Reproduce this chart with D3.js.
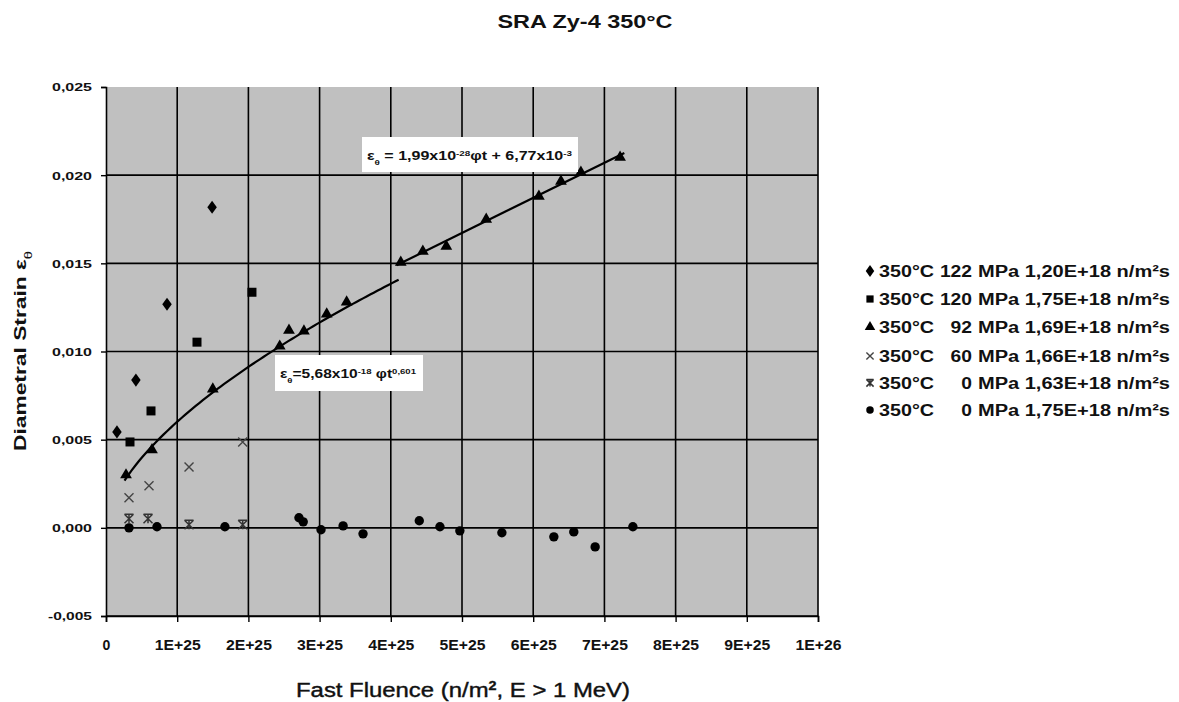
<!DOCTYPE html>
<html><head><meta charset="utf-8">
<script src="https://cdn.jsdelivr.net/npm/d3@7/dist/d3.min.js"></script>
<style>
html,body{margin:0;padding:0;background:#fff;}
svg{display:block;font-family:"Liberation Sans",Arial,sans-serif;}
</style></head>
<body>
<svg id="c" width="1179" height="702"></svg>
<script>
// ---- data (fluence in units of 1E+25 n/m², strain) ----
const s122x = [0.154, 0.42, 0.857, 1.49];
const s122y = [0.00544, 0.00838, 0.01268, 0.01818];
const s120x = [0.337, 0.632, 1.278, 2.05];
const s120y = [0.00487, 0.00663, 0.01053, 0.01336];
const s92x = [0.281, 0.646, 1.50, 2.44, 2.57, 2.78, 3.10, 3.38, 4.14, 4.45, 4.78, 5.34, 6.08, 6.39, 6.67, 7.22];
const s92y = [0.0030, 0.00442, 0.00787, 0.0103, 0.0112, 0.01116, 0.01212, 0.0128, 0.01506, 0.01568, 0.01597, 0.0175, 0.0188, 0.01965, 0.02016, 0.02101];
const s60x = [0.323, 0.604, 1.166, 1.92];
const s60y = [0.0017, 0.00238, 0.00345, 0.00487];
const s0ax = [0.323, 0.59, 1.166, 1.92];
const s0ay = [0.00051, 0.00051, 0.00017, 0.00017];
const s0bx = [0.323, 0.716, 1.67, 2.71, 2.77, 3.02, 3.33, 3.61, 4.40, 4.69, 4.97, 5.56, 6.29, 6.57, 6.87, 7.40];
const s0by = [0.0, 0.00006, 0.00006, 0.00057, 0.00034, -0.00011, 0.00011, -0.00034, 0.0004, 0.00006, -0.00017, -0.00028, -0.00051, -0.00023, -0.00108, 0.00006];

const seriesNames = [
  ["350°C","122","MPa 1,20E+18 n/m²s"],
  ["350°C","120","MPa 1,75E+18 n/m²s"],
  ["350°C","92","MPa 1,69E+18 n/m²s"],
  ["350°C","60","MPa 1,66E+18 n/m²s"],
  ["350°C","0","MPa 1,63E+18 n/m²s"],
  ["350°C","0","MPa 1,75E+18 n/m²s"]
];
const seriesMarkers = ["diamond","square","triangle","cross","asterisk","circle"];

const xTicks = [0,1,2,3,4,5,6,7,8,9,10];
const xTickLabels = ["0","1E+25","2E+25","3E+25","4E+25","5E+25","6E+25","7E+25","8E+25","9E+25","1E+26"];
const yTicks = [-0.005,0,0.005,0.010,0.015,0.020,0.025];
const yTickLabels = ["-0,005","0,000","0,005","0,010","0,015","0,020","0,025"];

// fit lines: power law eps = a * phi^b (phi in n/m²), linear eps = m*phi + c
const powerFit = {a:5.68e-18, b:0.601, from:0.26, to:4.15};
const linearFit = {m:1.99e-28, c:6.77e-3, from:4.08, to:7.28};

const svg = d3.select("#c");
const L=106, R=818, T=87, B=616;
const x = d3.scaleLinear().domain([0,10]).range([L,R]);
const y = d3.scaleLinear().domain([-0.005,0.025]).range([B,T]);

// plot area
svg.append("rect").attr("x",L).attr("y",T).attr("width",R-L).attr("height",B-T).attr("fill","#c0c0c0");
// grid
const g = svg.append("g").attr("stroke","#000").attr("stroke-width",1.6);
yTicks.filter(v=>v<0.024).forEach(v=>g.append("line").attr("x1",L).attr("x2",R).attr("y1",y(v)).attr("y2",y(v)));
xTicks.filter(v=>v>0).forEach(v=>g.append("line").attr("x1",x(v)).attr("x2",x(v)).attr("y1",T).attr("y2",B));

// axes
const xAxis = svg.append("g").attr("transform",`translate(0,${B})`)
  .call(d3.axisBottom(x).tickValues(xTicks).tickSize(6).tickFormat((d,i)=>xTickLabels[i]));
xAxis.select(".domain").attr("stroke-width",1.6);
xAxis.selectAll(".tick line").attr("stroke-width",1.4);
xAxis.selectAll("text").attr("font-size",14).attr("font-weight","bold").attr("fill","#111")
  .attr("font-family","Liberation Sans, Arial, sans-serif").attr("dy",0).attr("y",34)
  .each(function(d,i){ if(i>0) d3.select(this).attr("textLength",46).attr("lengthAdjust","spacingAndGlyphs"); });

const yAxis = svg.append("g").attr("transform",`translate(${L},0)`)
  .call(d3.axisLeft(y).tickValues(yTicks).tickSize(5).tickFormat((d,i)=>yTickLabels[i]));
yAxis.select(".domain").attr("stroke-width",1.6);
yAxis.selectAll(".tick line").attr("stroke-width",1.4);
yAxis.selectAll("text").attr("font-size",11).attr("font-weight","bold").attr("fill","#111")
  .attr("font-family","Liberation Sans, Arial, sans-serif").attr("x",-14).attr("dy","0.35em")
  .each(function(d,i){ d3.select(this).attr("textLength", i===0?44:40).attr("lengthAdjust","spacingAndGlyphs"); });

// fit lines
const pw = d3.range(powerFit.from, powerFit.to+1e-9, 0.05).map(t=>[t, powerFit.a*Math.pow(t*1e25,powerFit.b)]);
const ln = [linearFit.from, linearFit.to].map(t=>[t, linearFit.m*t*1e25+linearFit.c]);
const line = d3.line().x(d=>x(d[0])).y(d=>y(d[1]));
svg.append("path").attr("d",line(pw)).attr("fill","none").attr("stroke","#000").attr("stroke-width",2.2);
svg.append("path").attr("d",line(ln)).attr("fill","none").attr("stroke","#000").attr("stroke-width",2.2);

// markers
function drawMarker(sel, type, cx, cy, scale){
  scale = scale||1;
  if(type==="diamond") sel.append("path").attr("d",d3.symbol(d3.symbolDiamond,50*scale)()).attr("transform",`translate(${cx},${cy}) scale(1.25,1)`).attr("fill","#000");
  else if(type==="square") sel.append("rect").attr("x",cx-4.5*scale).attr("y",cy-4.5*scale).attr("width",9*scale).attr("height",9*scale).attr("fill","#000");
  else if(type==="triangle") sel.append("path").attr("d",d3.symbol(d3.symbolTriangle,60*scale)()).attr("transform",`translate(${cx},${cy})`).attr("fill","#000");
  else if(type==="circle") sel.append("circle").attr("cx",cx).attr("cy",cy).attr("r",4.7*scale).attr("fill","#000");
  else if(type==="cross"){ const s=4.5*scale;
    sel.append("path").attr("d",`M${cx-s},${cy-s}L${cx+s},${cy+s}M${cx-s},${cy+s}L${cx+s},${cy-s}`).attr("stroke","#444").attr("stroke-width",1.4).attr("fill","none"); }
  else if(type==="asterisk"){ const s=4.5*scale;
    sel.append("path").attr("d",`M${cx-s},${cy-s}L${cx+s},${cy+s}M${cx-s},${cy+s}L${cx+s},${cy-s}M${cx-s},${cy-s}L${cx+s},${cy-s}M${cx},${cy-s}L${cx},${cy+s}`).attr("stroke","#333").attr("stroke-width",1.5).attr("fill","none"); }
}
const allSeries = [[s122x,s122y],[s120x,s120y],[s92x,s92y],[s60x,s60y],[s0ax,s0ay],[s0bx,s0by]];
const mk = svg.append("g");
allSeries.forEach((s,k)=>{ s[0].forEach((xv,i)=>drawMarker(mk, seriesMarkers[k], x(xv), y(s[1][i]))); });

// equation boxes
function eqBox(bx,by,bw,bh, parts, tx, ty, tl){
  svg.append("rect").attr("x",bx).attr("y",by).attr("width",bw).attr("height",bh).attr("fill","#fff");
  const t = svg.append("text").attr("x",tx).attr("y",ty).attr("font-size",13).attr("font-weight","bold").attr("fill","#111")
    .attr("textLength",tl).attr("lengthAdjust","spacingAndGlyphs");
  parts.forEach(p=>{
    const ts = t.append("tspan").text(p[0]);
    if(p[1]==="sup") ts.attr("font-size",8).attr("baseline-shift","super");
    if(p[1]==="sub") ts.attr("font-size",8).attr("baseline-shift","sub");
  });
}
eqBox(362,137,216,35,[["ε"],["θ","sub"],[" = 1,99x10"],["-28","sup"],["φt + 6,77x10"],["-3","sup"]],367,160,205);
eqBox(275,355,148,36,[["ε"],["θ","sub"],["=5,68x10"],["-18","sup"],[" φt"],["0,601","sup"]],280,378,136);

// title
svg.append("text").attr("x",585).attr("y",28).attr("text-anchor","middle").attr("font-size",18).attr("font-weight","bold")
  .attr("fill","#111").attr("textLength",175).attr("lengthAdjust","spacingAndGlyphs").text("SRA Zy-4 350°C");

// x title
const xt = svg.append("text").attr("x",296).attr("y",697).attr("font-size",20).attr("fill","#111")
  .attr("textLength",334).attr("lengthAdjust","spacingAndGlyphs").attr("stroke","#111").attr("stroke-width",0.4);
xt.append("tspan").text("Fast Fluence (n/m");
xt.append("tspan").text("2").attr("font-size",12).attr("baseline-shift","super").attr("font-weight","bold");
xt.append("tspan").text(", E > 1 MeV)");

// y title
const yt = svg.append("text").attr("transform","translate(26,351) rotate(-90)").attr("text-anchor","middle")
  .attr("font-size",17).attr("font-weight","bold").attr("fill","#111")
  .attr("textLength",200).attr("lengthAdjust","spacingAndGlyphs");
yt.append("tspan").text("Diametral Strain ε");
yt.append("tspan").text("θ").attr("font-size",11).attr("baseline-shift","sub").attr("font-weight","normal");

// legend
const legRows = [271,299,327,356,383,410];
const lg = svg.append("g").attr("font-size",16).attr("font-weight","bold").attr("fill","#111");
seriesNames.forEach((n,i)=>{
  const cy = legRows[i];
  drawMarker(lg, seriesMarkers[i], 870, cy, 0.8);
  lg.append("text").attr("x",879).attr("y",cy+6).attr("textLength",55).attr("lengthAdjust","spacingAndGlyphs").text(n[0]);
  lg.append("text").attr("x",972).attr("y",cy+6).attr("text-anchor","end").attr("textLength",n[1].length*10.7).attr("lengthAdjust","spacingAndGlyphs").text(n[1]);
  lg.append("text").attr("x",978).attr("y",cy+6).attr("textLength",192).attr("lengthAdjust","spacingAndGlyphs").text(n[2]);
});
</script>
</body></html>
